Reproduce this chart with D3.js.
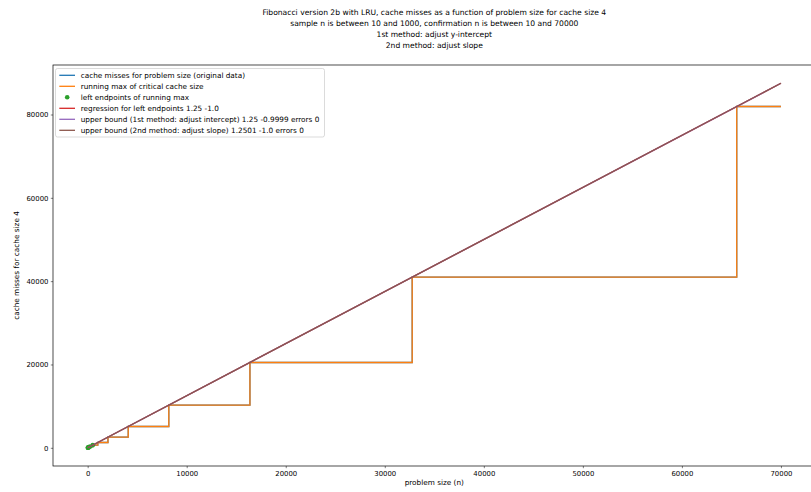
<!DOCTYPE html>
<html>
<head>
<meta charset="utf-8">
<script src="https://cdn.jsdelivr.net/npm/d3@7"></script>
<style>
  html, body { margin: 0; padding: 0; background: #fff; }
  svg { display: block; font-family: "DejaVu Sans", sans-serif; }
</style>
</head>
<body>
<svg id="chart" width="811" height="492"></svg>
<script>
// Problem sizes where the cache-miss count steps up, and the count on each step
const stepN = [10, 16, 32, 64, 128, 256, 512, 1024, 2048, 4096, 8192, 16384, 32768, 65536];
const stepMisses = [9, 19, 39, 79, 159, 319, 639, 1279, 2559, 5119, 10239, 20479, 40959, 81919];
const nRange = [10, 70000];

// Left endpoints of the running max inside the sample range (10..1000)
const leftN = [16, 32, 64, 128, 256, 512];
const leftMisses = [19, 39, 79, 159, 319, 639];

// Fitted lines: slope and intercept
const regression = { slope: 1.25, intercept: -1.0 };
const bound1 = { slope: 1.25, intercept: -0.9999 };
const bound2 = { slope: 1.2501, intercept: -1.0 };

const titleLines = [
  "Fibonacci version 2b with LRU, cache misses as a function of problem size for cache size 4",
  "sample n is between 10 and 1000, confirmation n is between 10 and 70000",
  "1st method: adjust y-intercept",
  "2nd method: adjust slope"
];
const legendLabels = [
  "cache misses for problem size (original data)",
  "running max of critical cache size",
  "left endpoints of running max",
  "regression for left endpoints 1.25 -1.0",
  "upper bound (1st method: adjust intercept) 1.25 -0.9999 errors 0",
  "upper bound (2nd method: adjust slope) 1.2501 -1.0 errors 0"
];
const xTicks = [0, 10000, 20000, 30000, 40000, 50000, 60000, 70000];
const yTicks = [0, 20000, 40000, 60000, 80000];

const colors = {
  blue: "#1f77b4", orange: "#ff7f0e", green: "#2ca02c",
  red: "#d62728", purple: "#9467bd", brown: "#8c564b"
};

const svg = d3.select("#chart");
const mLeft = 53, mRight = 815.6, mTop = 65, mBottom = 466;

// step series, extended to the end of the confirmation range
const stepData = stepN.map((n, i) => [n, stepMisses[i]]);
stepData.push([nRange[1], stepMisses[stepMisses.length - 1]]);

const lineFor = c => nRange.map(n => [n, c.slope * n + c.intercept]);

const allY = stepMisses.concat(leftMisses,
  lineFor(regression).map(d => d[1]), lineFor(bound1).map(d => d[1]), lineFor(bound2).map(d => d[1]));
const xMin = 0, xMax = nRange[1];
const yMin = d3.min(allY), yMax = d3.max(allY);
const xPad = (xMax - xMin) * 0.05, yPad = (yMax - yMin) * 0.05;

const x = d3.scaleLinear().domain([xMin - xPad, xMax + xPad]).range([mLeft, mRight]);
const y = d3.scaleLinear().domain([yMin - yPad, yMax + yPad]).range([mBottom, mTop]);

const plot = svg.append("g");
const line = d3.line().x(d => x(d[0])).y(d => y(d[1]));
const stepLine = d3.line().x(d => x(d[0])).y(d => y(d[1])).curve(d3.curveStepAfter);
const lw = 1.3;

plot.append("path").attr("d", stepLine(stepData)).attr("fill", "none")
  .attr("stroke", colors.blue).attr("stroke-width", lw);
plot.append("path").attr("d", stepLine(stepData)).attr("fill", "none")
  .attr("stroke", colors.orange).attr("stroke-width", lw);
plot.selectAll("circle.pt").data(leftN.map((n, i) => [n, leftMisses[i]])).join("circle")
  .attr("class", "pt").attr("cx", d => x(d[0])).attr("cy", d => y(d[1]))
  .attr("r", 2.3).attr("fill", colors.green);
[[regression, colors.red], [bound1, colors.purple], [bound2, colors.brown]].forEach(([c, col]) => {
  plot.append("path").attr("d", line(lineFor(c))).attr("fill", "none")
    .attr("stroke", col).attr("stroke-width", lw);
});

// axes
const tickFs = 6.9, labelFs = 7.3;
const xAxis = svg.append("g").attr("transform", `translate(0,${mBottom})`)
  .call(d3.axisBottom(x).tickValues(xTicks).tickFormat(d3.format("d")).tickSize(2.2).tickPadding(3.2).tickSizeOuter(0));
const yAxis = svg.append("g").attr("transform", `translate(${mLeft},0)`)
  .call(d3.axisLeft(y).tickValues(yTicks).tickFormat(d3.format("d")).tickSize(2.2).tickPadding(2.4).tickSizeOuter(0));
[xAxis, yAxis].forEach(a => {
  a.select(".domain").remove();
  a.selectAll("text").attr("font-size", tickFs).attr("font-family", "DejaVu Sans").attr("fill", "#000");
  a.selectAll("line").attr("stroke", "#000").attr("stroke-width", 0.5);
});

// frame
svg.append("rect").attr("x", mLeft).attr("y", mTop).attr("width", mRight - mLeft).attr("height", mBottom - mTop)
  .attr("fill", "none").attr("stroke", "#000").attr("stroke-width", 0.7);

// axis labels
svg.append("text").attr("x", (mLeft + mRight) / 2).attr("y", 484.5).attr("text-anchor", "middle")
  .attr("font-size", labelFs).text("problem size (n)");
svg.append("text").attr("transform", `translate(18.5,${(mTop + mBottom) / 2}) rotate(-90)`)
  .attr("text-anchor", "middle").attr("font-size", labelFs).text("cache misses for cache size 4");

// title
svg.append("g").selectAll("text").data(titleLines).join("text")
  .attr("x", (mLeft + mRight) / 2).attr("y", (d, i) => 14.6 + i * 11)
  .attr("text-anchor", "middle").attr("font-size", 7.6).text(d => d);

// legend
const lg = svg.append("g");
lg.append("rect").attr("x", 55.5).attr("y", 68.5).attr("width", 269).attr("height", 68.5)
  .attr("rx", 2).attr("fill", "#fff").attr("fill-opacity", 0.8).attr("stroke", "#ccc").attr("stroke-width", 0.7);
const legendKinds = ["line", "line", "dot", "line", "line", "line"];
const legendColors = [colors.blue, colors.orange, colors.green, colors.red, colors.purple, colors.brown];
legendLabels.forEach((t, i) => {
  const cy = 75.3 + i * 11;
  if (legendKinds[i] === "line") {
    lg.append("line").attr("x1", 59.3).attr("x2", 75).attr("y1", cy).attr("y2", cy)
      .attr("stroke", legendColors[i]).attr("stroke-width", lw);
  } else {
    lg.append("circle").attr("cx", 67.2).attr("cy", cy).attr("r", 2.3).attr("fill", legendColors[i]);
  }
  lg.append("text").attr("x", 80.7).attr("y", cy).attr("dy", "0.35em").attr("font-size", labelFs).text(t);
});
</script>
</body>
</html>
